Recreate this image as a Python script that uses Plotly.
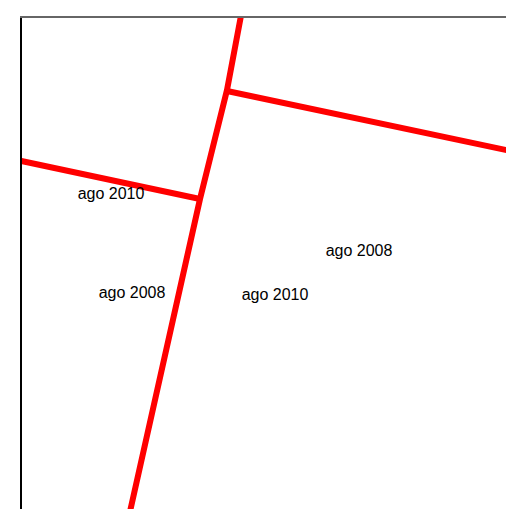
import plotly.graph_objects as go

# Road polylines (map units, y grows downward)
road_main_x = [243, 227, 200, 131, 127]
road_main_y = [5, 90, 199, 509, 525]
road_east_x = [227, 520]
road_east_y = [91, 153]
road_west_x = [10, 200]
road_west_y = [158.5, 199]

# Labels
label_text = ["ago 2010", "ago 2008", "ago 2010", "ago 2008"]
label_x = [111, 132, 275, 359]
label_y = [195, 294, 296, 252]

fig = go.Figure()
for xs, ys in [(road_main_x, road_main_y), (road_east_x, road_east_y), (road_west_x, road_west_y)]:
    fig.add_trace(go.Scatter(x=xs, y=ys, mode="lines",
                             line=dict(color="#ff0000", width=6),
                             hoverinfo="skip", showlegend=False))

fig.add_trace(go.Scatter(x=label_x, y=label_y, mode="text", text=label_text,
                         textposition="middle center",
                         textfont=dict(family="Liberation Sans, Arial", size=16, color="#000000"),
                         showlegend=False, hoverinfo="skip"))

fig.update_layout(
    width=506, height=509,
    margin=dict(l=22, r=0, t=18, b=0),
    paper_bgcolor="white", plot_bgcolor="white",
    xaxis=dict(range=[22, 506], showgrid=False, zeroline=False, showticklabels=False,
               ticks="", side="top", showline=True, linecolor="#666666", linewidth=1.5),
    yaxis=dict(range=[509, 18], showgrid=False, zeroline=False, showticklabels=False,
               ticks="", showline=True, linecolor="#000000", linewidth=1.5),
)

fig.write_html("out.html",
               config={"displayModeBar": False},
               post_script="document.body.style.margin='0';document.body.style.overflow='hidden';")
